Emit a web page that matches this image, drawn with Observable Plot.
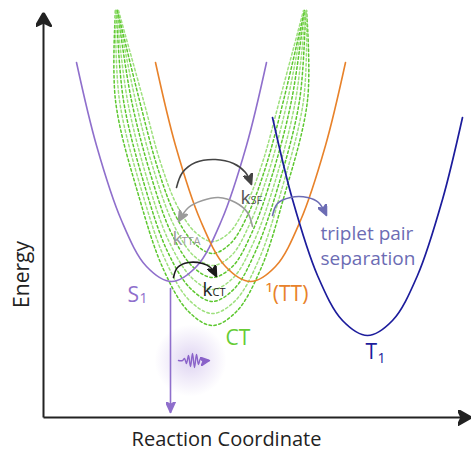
<!DOCTYPE html>
<html><head><meta charset="utf-8">
<script src="https://cdn.jsdelivr.net/npm/d3@7"></script>
<script src="https://cdn.jsdelivr.net/npm/@observablehq/plot@0.6"></script>
<style>body{margin:0;background:#fff} svg{display:block}</style>
</head><body><div id="chart"></div>
<script>
// Reaction coordinate (x) and energy (E) values
const s1X = [33,53,78,103,128,153,178,203,223];
const s1E = [355,272,197,151,136,151,197,272,355];
const ttX = [112,132,157,182,207,232,257,282,302];
const ttE = [355,272,197,151,136,151,197,272,355];
const t1X = [229,249,274,299,324,349,374,399,419];
const t1E = [300,218,142,97,82,97,142,218,300];

// CT manifold (dashed family)
const ctX = [
  [72,72,96,120,145,169,193,217,240,264,263],
  [72,76,99,122,146,169,192,215,237,260,263],
  [73,80,102,124,147,169,191,212,234,256,262],
  [73,84,105,126,148,169,190,210,231,252,262],
  [74,88,108,128,149,169,189,208,228,248,261],
  [74,92,111,130,150,169,188,206,225,244,261],
  [74,96,114,132,151,169,187,204,222,240,261],
  [75,100,117,134,152,169,186,202,219,236,260]
];
const ctE = [
  [407,317,219,148,106,92,106,148,219,317,407],
  [407,317,224,157,117,104,117,157,224,317,407],
  [407,317,229,166,129,116,129,166,229,317,407],
  [407,317,234,175,140,128,140,175,234,317,407],
  [407,317,240,184,151,140,151,184,240,317,407],
  [407,317,245,193,162,152,162,193,245,317,407],
  [407,317,250,202,174,164,174,202,250,317,407],
  [407,317,255,211,185,176,185,211,255,317,407]
];
const ctColor = ["#5cc72e","#9ee07e","#5cc72e","#9ee07e","#5cc72e","#9ee07e","#5cc72e","#9ee07e"];

// rate arrows (arcs)
const kSFX = [133,139,152,172,190,202,208];
const kSFE = [230,245,255,258,254,245,233];
const kTTAX = [209,204,192,175,159,145,135];
const kTTAE = [191,205,215,220,217,210,196];
const kCTX = [130,134,145,159,167,173];
const kCTE = [140,150,155,154,150,141];
const tpsX = [229,234,247,264,275,283];
const tpsE = [202,214,220,220,215,202];

// emission
const emitX = [127,127];
const emitE = [129,5];
const photonX = [135,139,141,143,145,147,149,151,153,155,157,159,166];
const photonE = [57,57,59,54,62,51,64,50,63,53,59,57,57];
const glowX = [147], glowE = [57];

// axes extents
const axisXEnd = 428, axisYEnd = 405;

// labels
const labText  = ["S","1","T","1","\u00B9(TT)","CT","k","SF","k","TTA","k","CT","triplet pair","separation"];
const labX     = [84,96,322,334,222,182,197,207,129,138,159,169,277,277];
const labE     = [116,115,59,55,117,73,214,214,173,173,122,122,178,153];
const labSize  = [21,14,21,14,21,21,19,11,19,11,19,11,19,19];
const labColor = ["#8f6fcc","#8f6fcc","#1c1c9c","#1c1c9c","#e8822a","#66cc33","#555","#555","#999","#999","#222","#222","#6c6cb4","#6c6cb4"];

const labels = labText.map((t,i)=>({t, x:labX[i], y:labE[i], s:labSize[i], c:labColor[i]}));
const pts = (xs, es) => xs.map((x,i)=>({x, y:es[i]}));

function arrowHead(len, wid) {
  return (color) => {
    const ns = "http://www.w3.org/2000/svg";
    const m = document.createElementNS(ns, "marker");
    m.setAttribute("viewBox", `${-len} ${-wid/2} ${len} ${wid}`);
    m.setAttribute("markerWidth", len);
    m.setAttribute("markerHeight", wid);
    m.setAttribute("markerUnits", "userSpaceOnUse");
    m.setAttribute("refX", 0); m.setAttribute("refY", 0);
    m.setAttribute("orient", "auto");
    const p = document.createElementNS(ns, "path");
    p.setAttribute("d", `M0,0L${-len},${-wid/2}L${-len*0.72},0L${-len},${wid/2}Z`);
    p.setAttribute("fill", color);
    m.appendChild(p);
    return m;
  };
}
const bigHead = arrowHead(14, 16);
const midHead = arrowHead(11, 10);
const smallHead = arrowHead(9, 9);

const marks = [
  Plot.dot(pts(glowX, glowE), {x:"x", y:"y", r:36, fill:"url(#glow)", stroke:"none"}),
  ...ctX.map((xs,k)=>Plot.line(pts(xs, ctE[k]), {x:"x", y:"y", curve:"catmull-rom",
      stroke: ctColor[k], strokeWidth:1.5, strokeDasharray:"2.5 2.5"})),
  Plot.line(pts(s1X,s1E), {x:"x", y:"y", curve:"catmull-rom", stroke:"#8f6fcc", strokeWidth:1.6}),
  Plot.line(pts(ttX,ttE), {x:"x", y:"y", curve:"catmull-rom", stroke:"#e8822a", strokeWidth:1.6}),
  Plot.line(pts(t1X,t1E), {x:"x", y:"y", curve:"catmull-rom", stroke:"#1c1c9c", strokeWidth:1.7}),
  Plot.line(pts(kSFX,kSFE), {x:"x", y:"y", curve:"catmull-rom", stroke:"#444", strokeWidth:1.6, markerEnd: midHead}),
  Plot.line(pts(kTTAX,kTTAE), {x:"x", y:"y", curve:"catmull-rom", stroke:"#9a9a9a", strokeWidth:1.6, markerEnd: midHead}),
  Plot.line(pts(kCTX,kCTE), {x:"x", y:"y", curve:"catmull-rom", stroke:"#1a1a1a", strokeWidth:1.6, markerEnd: midHead}),
  Plot.line(pts(tpsX,tpsE), {x:"x", y:"y", curve:"catmull-rom", stroke:"#6c6cb4", strokeWidth:1.6, markerEnd: midHead}),
  Plot.line(pts(emitX,emitE), {x:"x", y:"y", stroke:"#8f6fcc", strokeWidth:1.6, markerEnd: midHead}),
  Plot.line(pts(photonX,photonE), {x:"x", y:"y", curve:"catmull-rom", stroke:"#8a62c9", strokeWidth:1.4, markerEnd: smallHead}),
  Plot.link([{x1:0,y1:0,x2:0,y2:axisYEnd}], {x1:"x1", y1:"y1", x2:"x2", y2:"y2", stroke:"#222", strokeWidth:2, markerEnd: bigHead}),
  Plot.link([{x1:0,y1:0,x2:axisXEnd,y2:0}], {x1:"x1", y1:"y1", x2:"x2", y2:"y2", stroke:"#222", strokeWidth:2, markerEnd: bigHead}),
  Plot.text(labels, {x:"x", y:"y", text:"t", fontSize:"s", fill:"c", textAnchor:"start", lineAnchor:"bottom"}),
  Plot.text([{t:"Energy", x:-21, y:143}], {x:"x", y:"y", text:"t", rotate:-90, fontSize:21, fill:"#222", textAnchor:"middle", lineAnchor:"middle"}),
  Plot.text([{t:"Reaction Coordinate", x:183, y:-28}], {x:"x", y:"y", text:"t", fontSize:20, fill:"#222", textAnchor:"middle", lineAnchor:"bottom"})
];

const plot = Plot.plot({
  width: 471, height: 452,
  marginTop:0, marginRight:0, marginBottom:0, marginLeft:0,
  x: {domain:[-43, 428], axis:null},
  y: {domain:[-35, 417], axis:null},
  style: {fontFamily:"'Open Sans', sans-serif", background:"#fff", overflow:"visible"},
  marks
});
const svg = d3.select(plot);
const defs = svg.insert("defs", ":first-child");
const g = defs.append("radialGradient").attr("id","glow");
g.append("stop").attr("offset","0%").attr("stop-color","#9a78d6").attr("stop-opacity",0.32);
g.append("stop").attr("offset","55%").attr("stop-color","#9a78d6").attr("stop-opacity",0.14);
g.append("stop").attr("offset","100%").attr("stop-color","#9a78d6").attr("stop-opacity",0);
document.getElementById("chart").append(plot);
</script></body></html>
